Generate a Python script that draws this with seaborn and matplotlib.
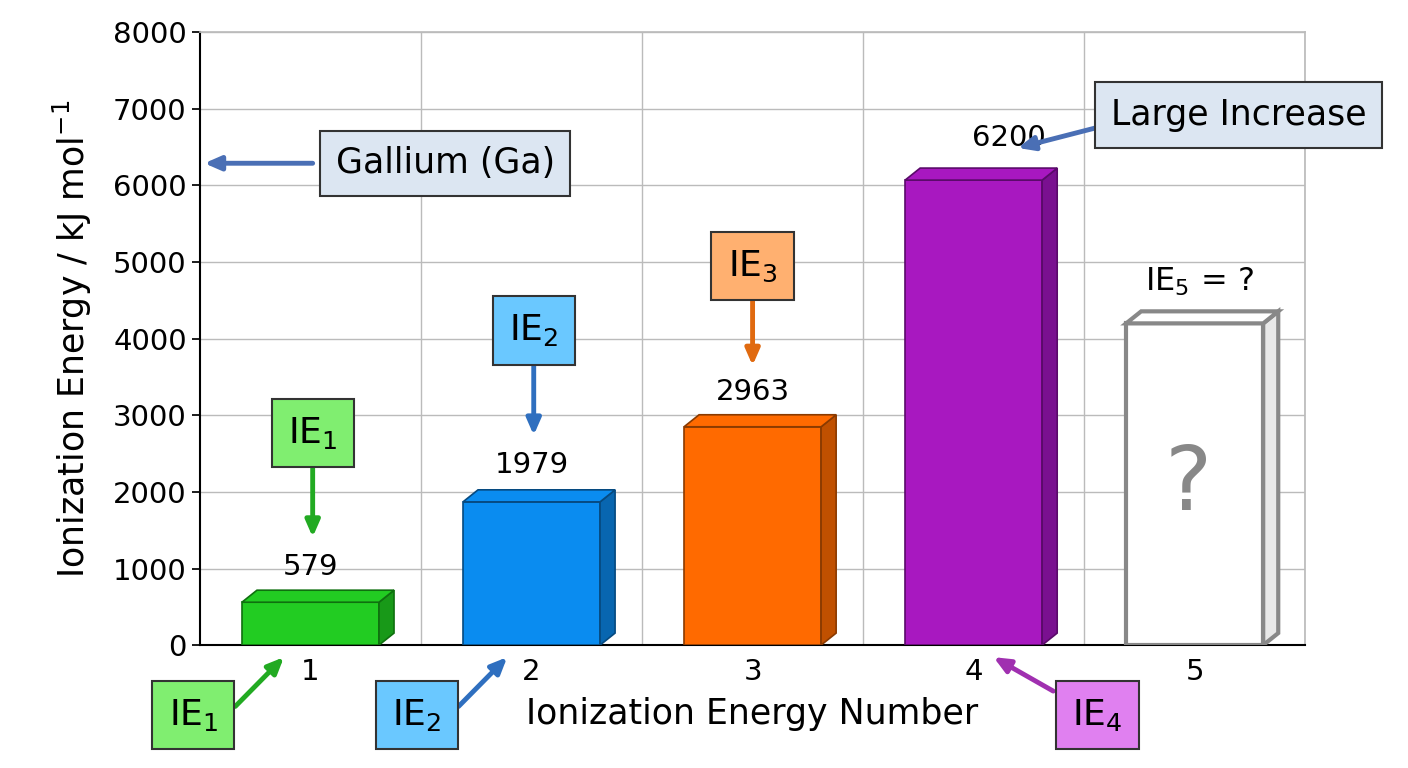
import matplotlib
matplotlib.use("Agg")
import matplotlib.pyplot as plt
import seaborn as sns
from matplotlib.patches import Polygon

sns.set_theme(style="whitegrid")
plt.rcParams['font.family'] = ['DejaVu Sans']
plt.rcParams['text.color'] = 'black'
plt.rcParams['axes.labelcolor'] = 'black'

# data
ie_numbers = [1, 2, 3, 4, 5]
bar_heights = [560, 1870, 2850, 6070, 4200]
value_labels = ["579", "1979", "2963", "6200", ""]
bar_colors = ["#22cc22", "#0a8cf0", "#ff6a00", "#a818c0", "#ffffff"]
side_colors = ["#189918", "#0866b0", "#c05000", "#7a1090", "#e8e8e8"]
edge_colors = ["#0f700f", "#064a80", "#8a3a00", "#5a0a6a", "#888888"]
yticks = [0, 1000, 2000, 3000, 4000, 5000, 6000, 7000, 8000]

fig = plt.figure(figsize=(14.08, 7.68), dpi=100)
ax = fig.add_axes([0.142, 0.160, 0.785, 0.798])
ax.set_xlim(0.5, 5.5)
ax.set_ylim(0, 8000)
ax.set_xticks(ie_numbers)
ax.set_yticks(yticks)
ax.set_xticks([1.5, 2.5, 3.5, 4.5, 5.5], minor=True)
ax.grid(False)
ax.grid(True, which='minor', axis='x', color='#bbbbbb', lw=1)
ax.grid(True, which='major', axis='y', color='#bbbbbb', lw=1)
for s in ['top', 'right']:
    ax.spines[s].set_color('#bbbbbb')
for s in ['left', 'bottom']:
    ax.spines[s].set_color('black')
    ax.spines[s].set_linewidth(1.5)
ax.tick_params(axis='both', labelsize=21, colors='black', length=6, left=True, bottom=False)
ax.set_axisbelow(True)

w = 0.62
dx, dy = 0.068, 157
sns.barplot(x=[i - 1 for i in ie_numbers], y=bar_heights, ax=ax, native_scale=True)
for p in list(ax.patches):
    p.remove()
for x, h, c, sc, ec in zip(ie_numbers, bar_heights, bar_colors, side_colors, edge_colors):
    lw = 3 if c == "#ffffff" else 1.2
    x0, x1 = x - w / 2, x + w / 2
    ax.add_patch(Polygon([(x0, 0), (x1, 0), (x1, h), (x0, h)], closed=True, fc=c, ec=ec, lw=lw, zorder=3))
    ax.add_patch(Polygon([(x1, 0), (x1 + dx, dy), (x1 + dx, h + dy), (x1, h)], closed=True, fc=sc, ec=ec, lw=lw, zorder=3))
    ax.add_patch(Polygon([(x0, h), (x1, h), (x1 + dx, h + dy), (x0 + dx, h + dy)], closed=True, fc=c, ec=ec, lw=lw, zorder=3))

label_pos = [(1.0, 1020), (2.0, 2350), (3.0, 3300), (4.16, 6620)]
for (x, y), t in zip(label_pos, value_labels):
    ax.text(x, y, t, ha='center', va='center', fontsize=21, zorder=5)

ax.text(5.02, 4740, "IE$_5$ = ?", ha='center', va='center', fontsize=23)
ax.text(4.97, 2090, "?", ha='center', va='center', fontsize=64, color='#888888', zorder=5)

def box(text, xy, fc, fs=26):
    ax.text(xy[0], xy[1], text, ha='center', va='center', fontsize=fs, zorder=6, clip_on=False,
            bbox=dict(boxstyle='square,pad=0.45', fc=fc, ec='#333333', lw=1.5))

def arrow(start, end, ac):
    ax.annotate("", xy=end, xytext=start, annotation_clip=False, zorder=5,
                arrowprops=dict(arrowstyle='-|>,head_width=0.35,head_length=0.8', color=ac, lw=3.5,
                                shrinkA=0, shrinkB=0))

box("Gallium (Ga)", (1.61, 6290), "#dce6f2", 25)
arrow((1.01, 6290), (0.52, 6290), "#4a6fb5")
box("Large Increase", (5.20, 6920), "#dce6f2", 25)
arrow((4.55, 6750), (4.20, 6490), "#4a6fb5")
box("IE$_3$", (3.0, 4950), "#ffb070")
arrow((3.0, 4500), (3.0, 3650), "#e06a10")
box("IE$_2$", (2.01, 4110), "#6ac8ff")
arrow((2.01, 3660), (2.01, 2740), "#2f6fbf")
box("IE$_1$", (1.01, 2770), "#80ee70")
arrow((1.01, 2320), (1.01, 1410), "#22aa22")
box("IE$_1$", (0.47, -914), "#80ee70")
arrow((0.66, -800), (0.88, -157), "#22aa22")
box("IE$_2$", (1.48, -914), "#6ac8ff")
arrow((1.67, -800), (1.89, -157), "#2f6fbf")
box("IE$_4$", (4.56, -914), "#e080f0")
arrow((4.36, -600), (4.09, -157), "#a030b0")

ax.set_xlabel("Ionization Energy Number", fontsize=25, labelpad=8)
ax.set_ylabel("Ionization Energy / kJ mol$^{-1}$", fontsize=25, labelpad=14)
fig.savefig("out.png", dpi=100)
